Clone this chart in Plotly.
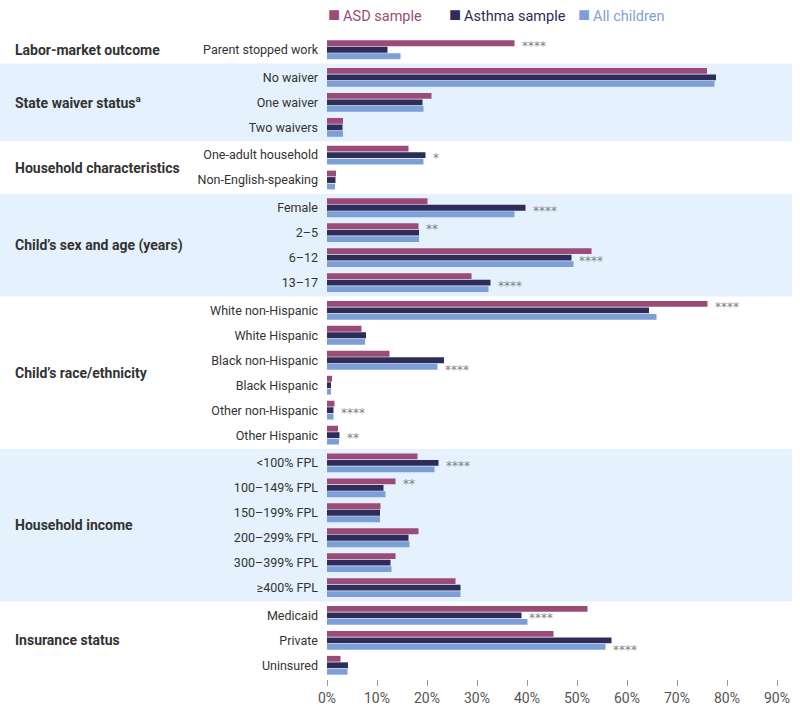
import plotly.graph_objects as go

categories = ["Parent stopped work", "No waiver", "One waiver", "Two waivers",
              "One-adult household", "Non-English-speaking",
              "Female", "2–5", "6–12", "13–17",
              "White non-Hispanic", "White Hispanic", "Black non-Hispanic",
              "Black Hispanic", "Other non-Hispanic", "Other Hispanic",
              "<100% FPL", "100–149% FPL", "150–199% FPL", "200–299% FPL",
              "300–399% FPL", "≥400% FPL",
              "Medicaid", "Private", "Uninsured"]

asd = [37.5, 76.0, 20.9, 3.2, 16.3, 1.8, 20.1, 18.3, 52.9, 28.9, 76.1, 6.9, 12.5,
       1.0, 1.5, 2.2, 18.1, 13.7, 10.7, 18.3, 13.7, 25.7, 52.1, 45.3, 2.7]
asthma = [12.1, 77.8, 19.1, 3.1, 19.7, 1.7, 39.7, 18.4, 48.9, 32.7, 64.4, 7.8, 23.4,
          0.8, 1.3, 2.5, 22.3, 11.3, 10.6, 16.3, 12.7, 26.7, 38.9, 56.9, 4.2]
all_children = [14.7, 77.5, 19.3, 3.2, 19.3, 1.6, 37.5, 18.4, 49.3, 32.3, 65.9, 7.6, 22.1,
                0.8, 1.3, 2.4, 21.5, 11.7, 10.6, 16.5, 12.9, 26.7, 40.1, 55.7, 4.1]

section_names = ["Labor-market outcome", "State waiver status<sup>a</sup>",
                 "Household characteristics", "Child’s sex and age (years)",
                 "Child’s race/ethnicity", "Household income", "Insurance status"]
section_sizes = [1, 3, 2, 4, 6, 6, 3]
shaded_sections = [1, 3, 5]

significance = {
    "Parent stopped work": ("ASD", "****"),
    "One-adult household": ("Asthma", "*"),
    "Female": ("Asthma", "****"),
    "2–5": ("ASD", "**"),
    "6–12": ("Asthma", "****"),
    "13–17": ("Asthma", "****"),
    "White non-Hispanic": ("ASD", "****"),
    "Black non-Hispanic": ("All", "****"),
    "Other non-Hispanic": ("Asthma", "****"),
    "Other Hispanic": ("Asthma", "**"),
    "<100% FPL": ("Asthma", "****"),
    "100–149% FPL": ("ASD", "**"),
    "Medicaid": ("Asthma", "****"),
    "Private": ("All", "****"),
}

x_ticks = [0, 10, 20, 30, 40, 50, 60, 70, 80, 90]

COL_ASD = "#9b4b78"
COL_ASTHMA = "#2e2c58"
COL_ALL = "#7d9fd8"
BAND = "#e5f1fc"
FONT = "Roboto"

# numeric positions with a small gap between sections
GAP = 0.11
positions = []
i = 0
for s, n in enumerate(section_sizes):
    for _ in range(n):
        positions.append(i + s * GAP)
        i += 1

L = 327
R = 8
T = 36
B = 30
W = 800 - L - R
H = 709 - T - B

fig = go.Figure()
series = [("ASD", "ASD sample", asd, COL_ASD, 326),
          ("Asthma", "Asthma sample", asthma, COL_ASTHMA, 447),
          ("All", "All children", all_children, COL_ALL, 576)]
annotations = []
for key, name, vals, col, lx in series:
    fig.add_trace(go.Bar(
        y=positions, x=vals, orientation="h", name=name,
        marker=dict(color=col, line=dict(width=0)),
        hoverinfo="skip", showlegend=False,
    ))
    # legend entry
    annotations.append(dict(
        x=(lx - L) / W, xref="paper", y=1 + (T - 14) / H, yref="paper",
        xanchor="left", yanchor="middle", showarrow=False,
        text=(f"<span style='font-size:20px'>■</span>"
              f"<span style='font-size:12px'> </span>{name}"),
        font=dict(family=FONT, size=14.5, color=col),
    ))

BARGAP = 0.22
slot = (1 - BARGAP) / 3
offsets = {"ASD": -slot, "Asthma": 0.0, "All": slot}
vals_by_key = {"ASD": asd, "Asthma": asthma, "All": all_children}

for cat, (key, txt) in significance.items():
    idx = categories.index(cat)
    annotations.append(dict(
        x=vals_by_key[key][idx] + 1.1, y=positions[idx] + offsets[key],
        xref="x", yref="y", text=txt, showarrow=False, xanchor="left",
        yanchor="middle", yshift=-3,
        font=dict(family="DejaVu Sans", size=12, color="#808080"),
    ))

shapes = []
start = 0
for s, n in enumerate(section_sizes):
    first = positions[start]
    last = positions[start + n - 1]
    if s in shaded_sections:
        shapes.append(dict(
            type="rect", xref="paper", yref="y",
            x0=-L / W, x1=1.0,
            y0=first - 0.5 - GAP / 2, y1=last + 0.5 + GAP / 2,
            fillcolor=BAND, line=dict(width=0), layer="below",
        ))
    annotations.append(dict(
        x=(13 - L) / W, xref="paper", y=(first + last) / 2, yref="y",
        text=f"<b>{section_names[s]}</b>", showarrow=False,
        xanchor="left", yanchor="middle",
        font=dict(family=FONT, size=14, color="#333333"),
    ))
    start += n

fig.update_layout(
    width=800, height=709,
    margin=dict(l=L, r=R, t=T, b=B, autoexpand=False),
    paper_bgcolor="white", plot_bgcolor="rgba(0,0,0,0)",
    barmode="group", bargap=BARGAP, bargroupgap=0.1,
    shapes=shapes, annotations=annotations,
    showlegend=False,
    font=dict(family=FONT, color="#333333"),
)
fig.update_xaxes(range=[0, 93], tickvals=x_ticks, ticktext=[f"{v}%" for v in x_ticks],
                 showgrid=False, zeroline=False, showline=False,
                 ticks="outside", ticklen=6, tickcolor="#999999", tickwidth=1,
                 automargin=False,
                 tickfont=dict(family=FONT, size=14, color="#555555"))
fig.update_yaxes(range=[positions[-1] + 0.55, positions[0] - 0.55],
                 tickvals=positions, ticktext=categories,
                 showgrid=False, zeroline=False, showline=False, ticks="",
                 ticklabelstandoff=8, automargin=False,
                 tickfont=dict(family=FONT, size=12.5, color="#333333"))

fig.write_html("out.html", config={"displayModeBar": False},
               post_script="document.body.style.margin='0';")
